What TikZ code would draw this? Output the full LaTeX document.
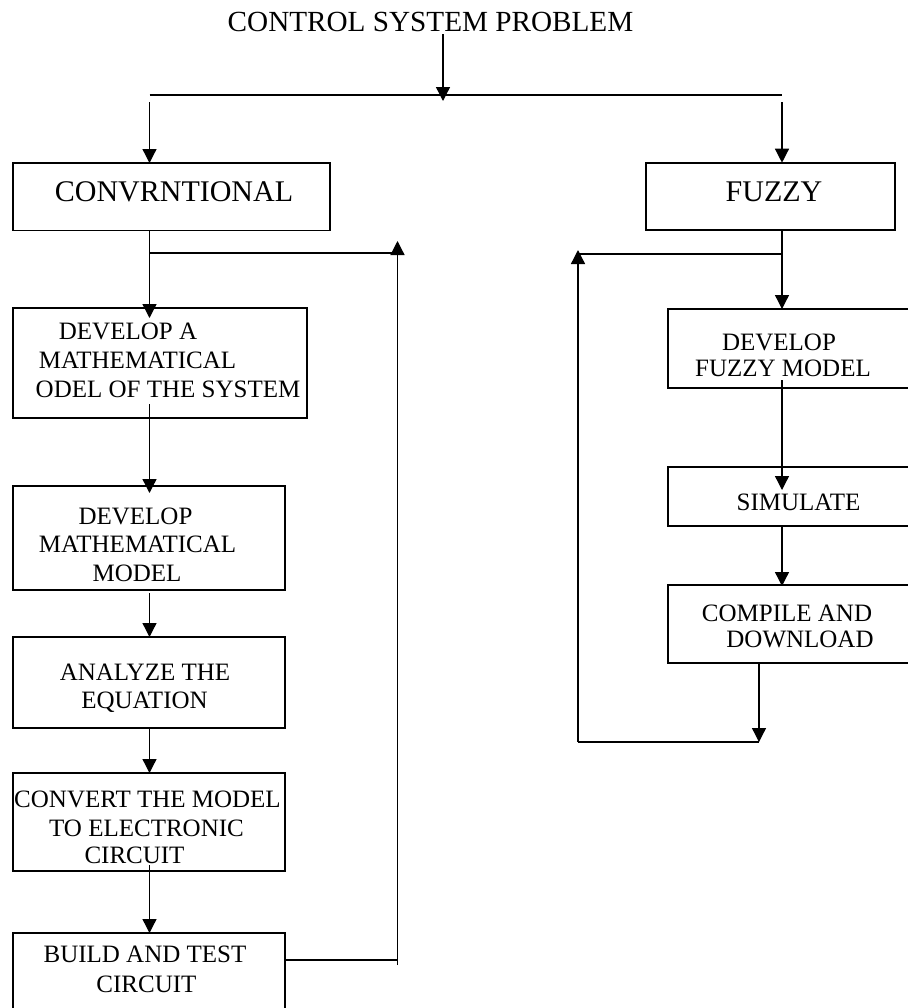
\documentclass[tikz,border=0pt]{standalone}
\usepackage{fontspec}
\setmainfont{Liberation Serif}
\usetikzlibrary{arrows.meta}

\tikzset{
  box/.style={draw, line width=0.9pt, inner sep=0pt, outer sep=0pt, anchor=north west},
  txt/.style={anchor=base, inner sep=0pt, font=\fontsize{12.5}{14}\selectfont},
  bigtxt/.style={anchor=base, inner sep=0pt, font=\fontsize{15}{17}\selectfont},
  wire/.style={line width=0.65pt},
  arr/.style={line width=0.65pt, -{Triangle[length=7pt,width=7pt]}},
}

\begin{document}
\begin{tikzpicture}[x=0.5pt, y=-0.5pt]
\useasboundingbox (0,0) rectangle (908,1008);
\clip (0,0) rectangle (908,1008);

% title
\node[anchor=base, inner sep=0pt, font=\fontsize{14.6}{17}\selectfont] (title) at (430.5,31.7) {CONTROL SYSTEM PROBLEM};

% column reference points
\coordinate (split) at (443,95);
\coordinate (busL) at (149.5,95);
\coordinate (busR) at (782,95);
\coordinate (cx) at (149.5,0);
\coordinate (rx) at (782,0);

% boxes
\node[box, minimum width=158.7pt, minimum height=33.75pt] (conv) at (12.7,163) {};
\node[box, minimum width=124.65pt, minimum height=33.65pt] (fuzzy) at (645.7,162.7) {};
\node[box, minimum width=147.15pt, minimum height=55pt] (b1) at (12.7,308) {};
\node[box, minimum width=136.15pt, minimum height=52pt] (b2) at (12.7,486) {};
\node[box, minimum width=136.15pt, minimum height=45.5pt] (b3) at (12.7,637) {};
\node[box, minimum width=136.15pt, minimum height=49pt] (b4) at (12.7,773) {};
\node[box, minimum width=136.15pt, minimum height=53.5pt] (b5) at (12.7,933) {};
\node[box, minimum width=136pt, minimum height=39.5pt] (r1) at (668,309) {};
\node[box, minimum width=136pt, minimum height=29.5pt] (r2) at (668,467) {};
\node[box, minimum width=136pt, minimum height=39pt] (r3) at (668,585) {};

% box texts
\node[bigtxt] (convtxt) at (174,201.7) {CONVRNTIONAL};
\node[bigtxt] (fuzzytxt) at (774,201.7) {FUZZY};

\node[txt] (b1a) at (128,339) {DEVELOP A};
\node[txt] (b1b) at (137.5,368) {MATHEMATICAL};
\node[txt] (b1c) at (168,397) {ODEL OF THE SYSTEM};

\node[txt] (b2a) at (135.5,524) {DEVELOP};
\node[txt] (b2b) at (137.5,552) {MATHEMATICAL};
\node[txt] (b2c) at (137,581) {MODEL};

\node[txt] (b3a) at (145,680) {ANALYZE THE};
\node[txt] (b3b) at (144.5,708) {EQUATION};

\node[txt] (b4a) at (147.5,807) {CONVERT THE MODEL};
\node[txt] (b4b) at (146.5,836) {TO ELECTRONIC};
\node[txt] (b4c) at (134.5,863) {CIRCUIT};

\node[txt] (b5a) at (145,962) {BUILD AND TEST};
\node[txt] (b5b) at (146.5,992) {CIRCUIT};

\node[txt] (r1a) at (779,350) {DEVELOP};
\node[txt] (r1b) at (783,376) {FUZZY MODEL};

\node[txt] (r2a) at (798.5,510) {SIMULATE};

\node[txt] (r3a) at (787,621) {COMPILE AND};
\node[txt] (r3b) at (800,647) {DOWNLOAD};

% split into the two approaches
\draw[arr] ([yshift=-1pt]title.south -| split) -- ([yshift=-3pt]split);
\draw[line width=0.9pt] (busL) -- (busR);
\draw[arr] ([yshift=-3.5pt]busL) -- (conv.north -| cx);
\draw[arr] ([yshift=-3.5pt]busR) -- (fuzzy.north -| rx);

% conventional chain
\coordinate (jl) at (149.5,253);
\coordinate (fbT) at (397.5,241);
\coordinate (fbB) at (397.5,960);
\draw[arr] (conv.south -| cx) -- ([yshift=-5pt]b1.north -| cx);
\draw[wire] (jl) -- (jl -| fbT);
\draw[arr] ([yshift=7pt]b1.south -| cx) -- ([yshift=-3.5pt]b2.north -| cx);
\draw[arr] ([yshift=-1.5pt]b2.south -| cx) -- (b3.north -| cx);
\draw[arr] (b3.south -| cx) -- (b4.north -| cx);
\draw[arr] ([yshift=3pt]b4.south -| cx) -- (b5.north -| cx);
\draw[wire] (fbB -| b5.east) -- (fbB);
\draw[arr] ([yshift=-2.5pt]fbB) -- (fbT);

% fuzzy chain
\coordinate (jr) at (782,254);
\coordinate (frT) at (578,250);
\coordinate (frB) at (578,742);
\coordinate (dl) at (759,0);
\draw[arr] (fuzzy.south -| rx) -- (r1.north -| rx);
\draw[wire] (jr) -- (jr -| frT);
\draw[arr] ([yshift=4pt]r1.south -| rx) -- ([yshift=-11.5pt]r2.north -| rx);
\draw[arr] (r2.south -| rx) -- ([yshift=-0.5pt]r3.north -| rx);
\draw[arr] (r3.south -| dl) -- (frB -| dl);
\draw[wire] (frB -| dl) -- (frB);
\draw[arr] (frB) -- (frT);
\end{tikzpicture}
\end{document}
